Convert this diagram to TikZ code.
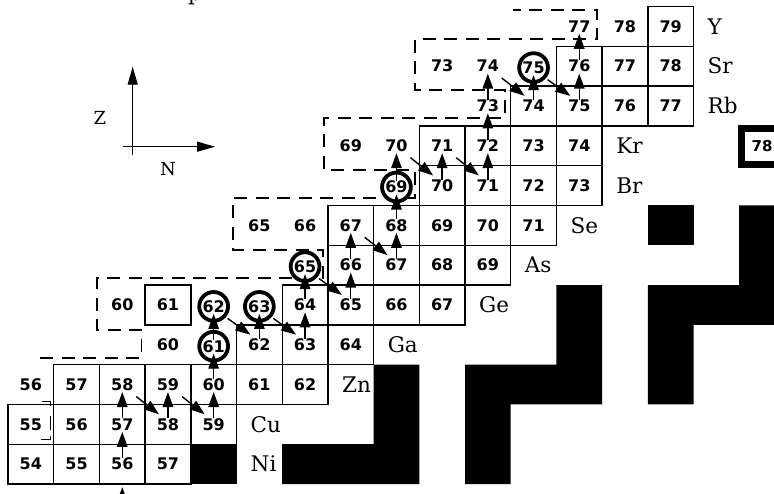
\documentclass[tikz,border=0pt]{standalone}
\usepackage{fontspec}
\newfontfamily\numfont{DejaVu Sans}
\newfontfamily\labfont{DejaVu Serif}
\usetikzlibrary{arrows.meta,calc}
\tikzset{
  num/.style={font=\numfont\bfseries\fontsize{16}{18}\selectfont},
  cellbox/.style={num, draw, line width=1.4pt, minimum width=45.7pt, minimum height=39.8pt, inner sep=0pt},
  cellfree/.style={num, minimum width=45.7pt, minimum height=39.8pt, inner sep=0pt},
  cellcirc/.style={num, circle, draw, fill=white, line width=3.8pt, minimum size=28.8pt, inner sep=0pt},
  elem/.style={font=\labfont\fontsize{21.5}{24}\selectfont, anchor=west, inner sep=0pt},
  axislab/.style={font=\labfont\fontsize{18}{20}\selectfont, inner sep=0pt},
  parr/.style={line width=1.4pt, -{Triangle[length=15pt,width=10.5pt]}},
  axarr/.style={line width=1.3pt, -{Triangle[length=18pt,width=10pt]}},
  drip/.style={line width=1.4pt, dash pattern=on 13pt off 8.5pt},
  solidpart/.style={line width=1.4pt},
  blk/.style={fill=black},
}
\begin{document}
\begin{tikzpicture}[x=1pt,y=-1pt]
\useasboundingbox (0,0) rectangle (774,493);
% black regions
\fill[blk] (190.8,444.2) rectangle (236.5,484);
\fill[blk] (282.2,484) -- (419.3,484) -- (419.3,364.6) -- (373.6,364.6) -- (373.6,444.2) -- (282.2,444.2) -- cycle;
\fill[blk] (465,484) -- (510.7,484) -- (510.7,404.4) -- (602.1,404.4) -- (602.1,285) -- (556.4,285) -- (556.4,364.6) -- (465,364.6) -- cycle;
\fill[blk] (647.8,404.4) -- (693.5,404.4) -- (693.5,324.8) -- (784.9,324.8) -- (784.9,205.4) -- (739.2,205.4) -- (739.2,285) -- (647.8,285) -- cycle;
\fill[blk] (647.8,205.4) rectangle (693.5,245.2);
% dashed boundary
\draw[drip] (40,358) -- (141.7,358) -- (141.7,330) -- (97,330) -- (97,278) -- (323,278) -- (323,250) -- (233,250) -- (233,198) -- (415,198) -- (415,170) -- (324,170) -- (324,118) -- (505,118) -- (505,90) -- (415,90) -- (415,39) -- (597,39) -- (597,10) -- (513,10);
\draw[solidpart] (42,401.7) -- (50.7,401.7) -- (50.7,406);
\draw[solidpart] (50.7,416) -- (50.7,430);
\draw[solidpart] (50.7,436) -- (50.7,439.3) -- (41,439.3);
% circled nuclei
\foreach \c/\r/\t in {4/3/61,4/4/62,5/4/63,6/5/65,8/7/69,11/10/75}
  \node[cellcirc] (n\c-\r) at ({30.85+45.7*\c},{464.1-39.8*\r+1.5}) {\t};
% boxed nuclei
\foreach \c/\r/\t in {0/0/54,1/0/55,2/0/56,3/0/57,
  0/1/55,1/1/56,2/1/57,3/1/58,4/1/59,
  1/2/57,2/2/58,3/2/59,4/2/60,5/2/61,6/2/62,
  5/3/62,6/3/63,7/3/64,
  3/4/61,6/4/64,7/4/65,8/4/66,9/4/67,
  7/5/66,8/5/67,9/5/68,10/5/69,
  7/6/67,8/6/68,9/6/69,10/6/70,11/6/71,
  9/7/70,10/7/71,11/7/72,12/7/73,
  9/8/71,10/8/72,11/8/73,12/8/74,
  11/9/74,12/9/75,13/9/76,14/9/77,
  12/10/76,13/10/77,14/10/78,
  14/11/79}
  \node[cellbox] (n\c-\r) at ({30.85+45.7*\c},{464.1-39.8*\r}) {\t};
% unboxed nuclei
\foreach \c/\r/\t in {0/2/56,3/3/60,2/4/60,5/6/65,6/6/66,7/8/69,8/8/70,10/9/73,9/10/73,10/10/74,12/11/77,13/11/78}
  \node[cellfree] (n\c-\r) at ({30.85+45.7*\c},{464.1-39.8*\r}) {\t};
% heavy box
\node[draw, line width=6.5pt, minimum width=40.6pt, minimum height=36pt, inner sep=0pt,
  font=\numfont\bfseries\fontsize{15}{17}\selectfont] (k78) at (762,146.4) {78};
% element labels
\foreach \c/\r/\t in {5/0/Ni,5/1/Cu,7/2/Zn,8/3/Ga,10/4/Ge,11/5/As,12/6/Se,13/7/Br,13/8/Kr,15/9/Rb,15/10/Sr,15/11/Y}
  \node[elem] (e\t) at ({8+45.7*\c+14},{464.1-39.8*\r}) {\t};
% cut text at top
\node[anchor=base west, inner sep=0pt, font=\labfont\fontsize{21}{24}\selectfont] (ptop) at (188,0) {p};
% axes
\coordinate (zbase) at (132.7,155);
\coordinate (ztip) at (132.7,66.7);
\coordinate (nbase) at (123,146.7);
\coordinate (ntip) at (215,146.7);
\draw[axarr] (zbase) -- (ztip);
\draw[axarr] (nbase) -- (ntip);
\node[axislab] (zlab) at (100,118) {Z};
\node[axislab] (nlab) at (168,169) {N};
% proton captures
\coordinate (below) at (122.2,512);
\draw[parr] (below) -- ($(n2-0.south)+(0,2.5)$);
\foreach \c/\r in {2/0,2/1,3/1,4/1,4/2,4/3,5/3,6/3,6/4,7/4,7/5,8/5,8/6,8/7,9/7,10/7,10/8,10/9,11/9,12/9,12/10} {
  \pgfmathtruncatemacro\rr{\r+1}
  \draw[parr] ($(n\c-\r.center)+(0,-6)$) -- ($(n\c-\rr.center)+(0,7.5)$);
}
% beta decays
\foreach \c/\r in {2/2,3/2,4/4,5/4,6/5,7/6,8/8,9/8,10/10,11/10} {
  \pgfmathtruncatemacro\cc{\c+1}
  \pgfmathtruncatemacro\rr{\r-1}
  \draw[parr] ($(n\c-\r.center)+(14,12)$) -- ($(n\cc-\rr.center)+(-9,-10)$);
}
\end{tikzpicture}
\end{document}
